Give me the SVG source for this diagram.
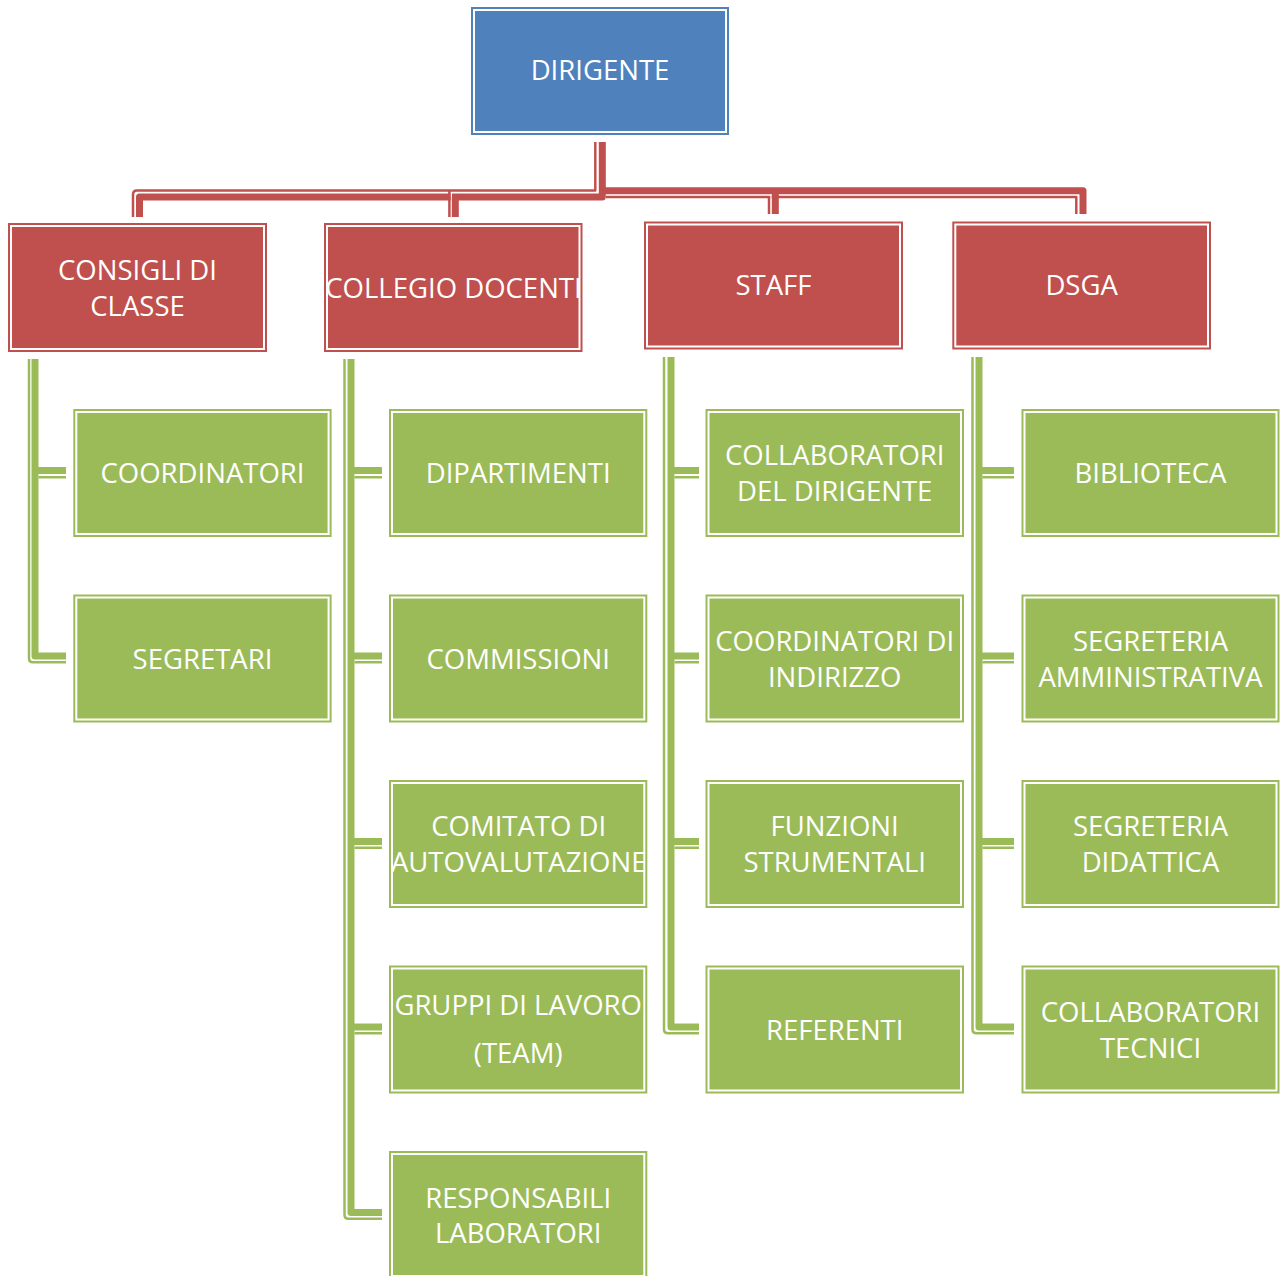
<svg xmlns="http://www.w3.org/2000/svg" width="1280" height="1276" viewBox="0 0 1280 1276">
<style>
.blue{fill:#4F81BD}
.red{fill:#C0504D}
.green{fill:#9BBB59}
.in{fill:none;stroke:#ffffff;stroke-width:2}
.t{font-family:"Open Sans","Noto Sans","DejaVu Sans",sans-serif;font-size:27.5px;fill:#ffffff;text-anchor:middle}
.cr{fill:none;stroke:#C0504D;stroke-linejoin:round}
.cg{fill:none;stroke:#9BBB59;stroke-linejoin:round}
.k{stroke-width:7}
.n{stroke-width:2.5}
.gap{fill:none;stroke:#ffffff;stroke-width:1.4}
</style>
<rect x="0" y="0" width="1280" height="1276" fill="#ffffff"/>

<g id="connectors">
  <!-- red: DIRIGENTE to second level -->
  <path class="cr k" d="M602.3,142 V197 H139.5 V217"/>
  <path class="cr n" d="M595.3,142 V190.5 H137 Q133,190.5 133,194.5 V217"/>
  <path class="cr k" d="M602.3,190.7 H1083 V214"/>
  <path class="cr n" d="M606,197 H1076.3 V214"/>
  <!-- COLLEGIO drop -->
  <path class="gap" d="M451.3,192 V217"/>
  <path class="cr n" d="M449.4,190.5 V217"/>
  <path class="cr k" d="M455.3,197 V217"/>
  <!-- STAFF drop -->
  <path class="gap" d="M771,194.3 V214"/>
  <path class="cr n" d="M769,197 V214"/>
  <path class="cr k" d="M775.3,190.7 V214"/>

  <!-- green column 1 -->
  <path class="cg k" d="M35,359 V656 H66 M35,470.5 H66"/>
  <path class="cg n" d="M29,359 V658.3 Q29,662.3 33,662.3 H66 M38.5,477.3 H66"/>
  <!-- green column 2 -->
  <path class="cg k" d="M351,359 V1212.5 H382 M351,470.5 H382 M351,656 H382 M351,841.5 H382 M351,1027 H382"/>
  <path class="cg n" d="M344.5,359 V1214.8 Q344.5,1218.8 348.5,1218.8 H382 M354.5,477.3 H382 M354.5,662.3 H382 M354.5,847.8 H382 M354.5,1033.3 H382"/>
  <!-- green column 3 -->
  <path class="cg k" d="M671,357 V1027 H699 M671,470.5 H699 M671,656 H699 M671,841.5 H699"/>
  <path class="cg n" d="M664,357 V1029.3 Q664,1033.3 668,1033.3 H699 M674.5,477.3 H699 M674.5,662.3 H699 M674.5,847.8 H699"/>
  <!-- green column 4 -->
  <path class="cg k" d="M979,357 V1027 H1014 M979,470.5 H1014 M979,656 H1014 M979,841.5 H1014"/>
  <path class="cg n" d="M972.5,357 V1029.3 Q972.5,1033.3 976.5,1033.3 H1014 M982.5,477.3 H1014 M982.5,662.3 H1014 M982.5,847.8 H1014"/>
</g>

<g id="n-dirigente">
  <rect class="blue" x="471" y="7" width="258" height="128"/>
  <rect class="in" x="474" y="10" width="252" height="122"/>
  <text class="t" x="600" y="80">DIRIGENTE</text>
</g>

<g id="n-consigli">
  <rect class="red" x="8" y="223" width="259" height="129"/>
  <rect class="in" x="11" y="226" width="253" height="123"/>
  <text class="t" x="137.5" y="279.5">CONSIGLI DI</text>
  <text class="t" x="137.5" y="316">CLASSE</text>
</g>
<g id="n-collegio">
  <rect class="red" x="324" y="223" width="258.5" height="129"/>
  <rect class="in" x="327" y="226" width="252.5" height="123"/>
  <text class="t" x="453.5" y="297.5">COLLEGIO DOCENTI</text>
</g>
<g id="n-staff">
  <rect class="red" x="644" y="221.5" width="259" height="128"/>
  <rect class="in" x="647" y="224.5" width="253" height="122"/>
  <text class="t" x="773.5" y="295">STAFF</text>
</g>
<g id="n-dsga">
  <rect class="red" x="952.3" y="221.5" width="258.7" height="128"/>
  <rect class="in" x="955.3" y="224.5" width="252.7" height="122"/>
  <text class="t" x="1081.6" y="295">DSGA</text>
</g>

<!-- column 1 -->
<g id="n-coordinatori">
  <rect class="green" x="73.3" y="409" width="258.3" height="128"/>
  <rect class="in" x="76.3" y="412" width="252.3" height="122"/>
  <text class="t" x="202.5" y="483">COORDINATORI</text>
</g>
<g id="n-segretari">
  <rect class="green" x="73.3" y="594.5" width="258.3" height="128"/>
  <rect class="in" x="76.3" y="597.5" width="252.3" height="122"/>
  <text class="t" x="202.5" y="668.5">SEGRETARI</text>
</g>

<!-- column 2 -->
<g id="n-dipartimenti">
  <rect class="green" x="389" y="409" width="258.3" height="128"/>
  <rect class="in" x="392" y="412" width="252.3" height="122"/>
  <text class="t" x="518.2" y="483">DIPARTIMENTI</text>
</g>
<g id="n-commissioni">
  <rect class="green" x="389" y="594.5" width="258.3" height="128"/>
  <rect class="in" x="392" y="597.5" width="252.3" height="122"/>
  <text class="t" x="518.2" y="668.5">COMMISSIONI</text>
</g>
<g id="n-comitato">
  <rect class="green" x="389" y="780" width="258.3" height="128"/>
  <rect class="in" x="392" y="783" width="252.3" height="122"/>
  <text class="t" x="518.7" y="836">COMITATO DI</text>
  <text class="t" x="518.7" y="872">AUTOVALUTAZIONE</text>
</g>
<g id="n-gruppi">
  <rect class="green" x="389" y="965.5" width="258.3" height="128"/>
  <rect class="in" x="392" y="968.5" width="252.3" height="122"/>
  <text class="t" x="518.2" y="1015">GRUPPI DI LAVORO</text>
  <text class="t" x="518.2" y="1063">(TEAM)</text>
</g>
<g id="n-responsabili">
  <rect class="green" x="389" y="1151" width="258.3" height="128"/>
  <rect class="in" x="392" y="1154" width="252.3" height="122"/>
  <text class="t" x="518.2" y="1207.5">RESPONSABILI</text>
  <text class="t" x="518.2" y="1243">LABORATORI</text>
</g>

<!-- column 3 -->
<g id="n-collaboratori-dirigente">
  <rect class="green" x="705.5" y="409" width="258.5" height="128"/>
  <rect class="in" x="708.5" y="412" width="252.5" height="122"/>
  <text class="t" x="834.7" y="465">COLLABORATORI</text>
  <text class="t" x="834.7" y="501">DEL DIRIGENTE</text>
</g>
<g id="n-coordinatori-indirizzo">
  <rect class="green" x="705.5" y="594.5" width="258.5" height="128"/>
  <rect class="in" x="708.5" y="597.5" width="252.5" height="122"/>
  <text class="t" x="834.7" y="650.5">COORDINATORI DI</text>
  <text class="t" x="834.7" y="686.5">INDIRIZZO</text>
</g>
<g id="n-funzioni">
  <rect class="green" x="705.5" y="780" width="258.5" height="128"/>
  <rect class="in" x="708.5" y="783" width="252.5" height="122"/>
  <text class="t" x="834.7" y="836">FUNZIONI</text>
  <text class="t" x="834.7" y="872">STRUMENTALI</text>
</g>
<g id="n-referenti">
  <rect class="green" x="705.5" y="965.5" width="258.5" height="128"/>
  <rect class="in" x="708.5" y="968.5" width="252.5" height="122"/>
  <text class="t" x="834.7" y="1039.5">REFERENTI</text>
</g>

<!-- column 4 -->
<g id="n-biblioteca">
  <rect class="green" x="1021.5" y="409" width="258" height="128"/>
  <rect class="in" x="1024.5" y="412" width="252" height="122"/>
  <text class="t" x="1150.5" y="483">BIBLIOTECA</text>
</g>
<g id="n-segreteria-amministrativa">
  <rect class="green" x="1021.5" y="594.5" width="258" height="128"/>
  <rect class="in" x="1024.5" y="597.5" width="252" height="122"/>
  <text class="t" x="1150.5" y="650.5">SEGRETERIA</text>
  <text class="t" x="1150.5" y="686.5">AMMINISTRATIVA</text>
</g>
<g id="n-segreteria-didattica">
  <rect class="green" x="1021.5" y="780" width="258" height="128"/>
  <rect class="in" x="1024.5" y="783" width="252" height="122"/>
  <text class="t" x="1150.5" y="836">SEGRETERIA</text>
  <text class="t" x="1150.5" y="872">DIDATTICA</text>
</g>
<g id="n-collaboratori-tecnici">
  <rect class="green" x="1021.5" y="965.5" width="258" height="128"/>
  <rect class="in" x="1024.5" y="968.5" width="252" height="122"/>
  <text class="t" x="1150.5" y="1021.5">COLLABORATORI</text>
  <text class="t" x="1150.5" y="1057.5">TECNICI</text>
</g>
</svg>
